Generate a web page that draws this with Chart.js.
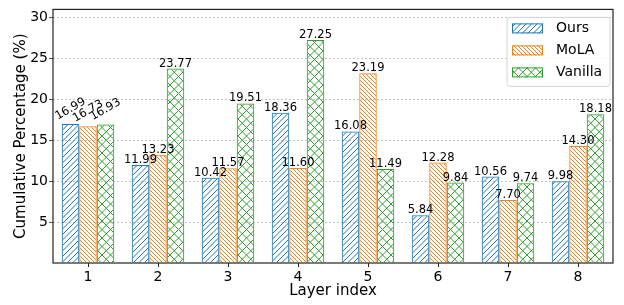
<!DOCTYPE html>
<html>
<head>
<meta charset="utf-8">
<script src="https://cdn.jsdelivr.net/npm/chart.js@4.4.0/dist/chart.umd.min.js"></script>
<style>
  html, body { margin: 0; padding: 0; background: #fff; }
</style>
</head>
<body>
<canvas id="chart" width="624" height="305"></canvas>
<script>
// ---- data ----
var layers = ["1", "2", "3", "4", "5", "6", "7", "8"];
var oursValues = [16.99, 11.99, 10.42, 18.36, 16.08, 5.84, 10.56, 9.98];
var molaValues = [16.73, 13.23, 11.57, 11.60, 23.19, 12.28, 7.70, 14.30];
var vanillaValues = [16.93, 23.77, 19.51, 27.25, 11.49, 9.84, 9.74, 18.18];
var yMin = 0, yMax = 31, yStep = 5;
var rotatedGroups = [0];   // first group's labels are tilted in the original

var FONT = '"DejaVu Sans", sans-serif';

//Build a hatch pattern tile: '/' , '\\' or 'x'
function makeHatch(color, kind, size, lines) {
    var c = document.createElement('canvas');
    c.width = size; c.height = size;
    var g = c.getContext('2d');
    g.strokeStyle = color;
    g.lineWidth = 1;
    var d = size / lines;
    g.beginPath();
    for (var k = -lines; k <= lines; k++) {
        if (kind === '/' || kind === 'x') {
            g.moveTo(k * d, size);
            g.lineTo(k * d + size, 0);
        }
        if (kind === '\\' || kind === 'x') {
            g.moveTo(k * d, 0);
            g.lineTo(k * d + size, size);
        }
    }
    g.stroke();
    return g.createPattern(c, 'repeat');
}

var blue = '#1f77b4', orange = '#ff7f0e', green = '#2ca02c';

//Zero gets no label/line in the original
function isShownTick(v) {
    return v !== 0;
}

//Value labels above every bar
var valueLabels = {
    id: 'valueLabels',
    afterDatasetsDraw: function (chart) {
        var ctx = chart.ctx;
        ctx.save();
        ctx.font = '11.5px ' + FONT;
        ctx.fillStyle = '#000';
        chart.data.datasets.forEach(function (ds, di) {
            var meta = chart.getDatasetMeta(di);
            meta.data.forEach(function (bar, i) {
                var txt = ds.data[i].toFixed(2);
                if (rotatedGroups.indexOf(i) >= 0) {
                    var ang = 30 * Math.PI / 180;
                    var tw = ctx.measureText(txt).width, th = 11;
                    var bh = tw * Math.sin(ang) + th * Math.cos(ang);
                    ctx.save();
                    ctx.translate(bar.x, bar.y - 2 - bh / 2);
                    ctx.rotate(-ang);
                    ctx.textAlign = 'center';
                    ctx.textBaseline = 'middle';
                    ctx.fillText(txt, 0, 0);
                    ctx.restore();
                } else {
                    ctx.textAlign = 'center';
                    ctx.textBaseline = 'alphabetic';
                    ctx.fillText(txt, bar.x, bar.y - 2);
                }
            });
        });
        ctx.restore();
    }
};

//Box round the plot area plus the legend drawn inside it
var frameAndLegend = {
    id: 'frameAndLegend',
    afterDraw: function (chart) {
        var ctx = chart.ctx, a = chart.chartArea;
        ctx.save();
        ctx.strokeStyle = '#222';
        ctx.lineWidth = 1.2;
        ctx.strokeRect(a.left, a.top, a.right - a.left, a.bottom - a.top);

        var w = 103, h = 69;
        var x = a.right - 3 - w, y = a.top + 8;
        ctx.beginPath();
        ctx.roundRect(x, y, w, h, 3);
        ctx.fillStyle = 'rgba(255,255,255,0.8)';
        ctx.fill();
        ctx.strokeStyle = '#d4d4d4';
        ctx.lineWidth = 1;
        ctx.stroke();
        chart.data.datasets.forEach(function (ds, i) {
            var py = y + 6 + i * 22;
            ctx.fillStyle = ds.backgroundColor;
            ctx.fillRect(x + 5, py, 31, 10);
            ctx.strokeStyle = ds.borderColor;
            ctx.strokeRect(x + 5.5, py + 0.5, 30, 9);
            ctx.fillStyle = '#000';
            ctx.font = '14px ' + FONT;
            ctx.textAlign = 'left';
            ctx.textBaseline = 'middle';
            ctx.fillText(ds.label, x + 49, py + 5);
        });
        ctx.restore();
    }
};

var chart = new Chart(document.getElementById('chart'), {
    type: 'bar',
    data: {
        labels: layers,
        datasets: [
            { label: 'Ours', data: oursValues, backgroundColor: makeHatch(blue, '/', 11, 2), borderColor: blue, borderWidth: 1 },
            { label: 'MoLA', data: molaValues, backgroundColor: makeHatch(orange, '\\', 12, 3), borderColor: orange, borderWidth: 1 },
            { label: 'Vanilla', data: vanillaValues, backgroundColor: makeHatch(green, 'x', 17, 2), borderColor: green, borderWidth: 1 }
        ]
    },
    options: {
        responsive: false,
        animation: false,
        layout: { padding: { top: 3, right: 11, left: 0, bottom: 0 } },
        datasets: { bar: { categoryPercentage: 0.75, barPercentage: 1.0 } },
        plugins: { legend: { display: false }, tooltip: { enabled: false } },
        scales: {
            x: {
                grid: { drawOnChartArea: false, offset: false, tickLength: 4, tickColor: '#222', tickWidth: 1 },
                border: { display: false },
                ticks: { color: '#000', font: { family: FONT, size: 14 }, padding: 2 },
                title: { display: true, text: 'Layer index', color: '#000', font: { family: FONT, size: 15 }, padding: { top: 0, bottom: 5 } },
                afterFit: function (s) { s.height = 42; }
            },
            y: {
                min: yMin, max: yMax,
                grid: {
                    color: function (c) { return c.tick && isShownTick(c.tick.value) ? '#b8b8b8' : 'rgba(0,0,0,0)'; },
                    lineWidth: 0.8,
                    tickLength: 4,
                    tickColor: function (c) { return c.tick && isShownTick(c.tick.value) ? '#222' : 'rgba(0,0,0,0)'; },
                    tickBorderDash: []
                },
                border: { display: false, dash: [2, 2] },
                ticks: {
                    stepSize: yStep, includeBounds: false, color: '#000', font: { family: FONT, size: 14 }, padding: 1,
                    callback: function (v) { return isShownTick(v) ? v : ''; }
                },
                title: { display: true, text: 'Cumulative Percentage (%)', color: '#000', font: { family: FONT, size: 15 }, padding: { top: 12, bottom: 0 } },
                afterFit: function (s) { s.width = 53; }
            }
        }
    },
    plugins: [valueLabels, frameAndLegend]
});
</script>
</body>
</html>
